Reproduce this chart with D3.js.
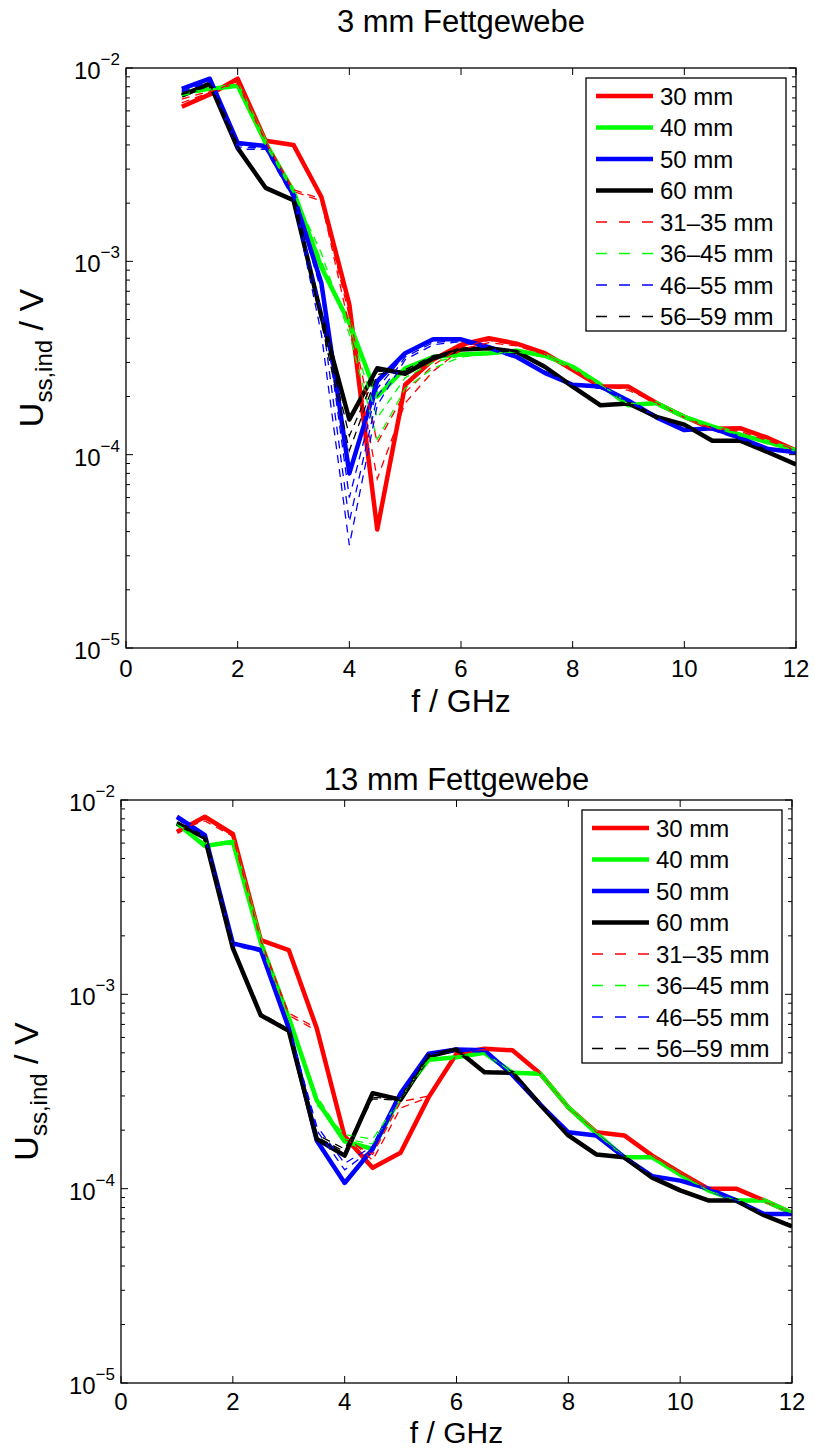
<!DOCTYPE html>
<html>
<head>
<meta charset="utf-8">
<script src="https://cdn.jsdelivr.net/npm/d3@7"></script>
<style>
  body { margin: 0; background: #fff; }
  svg text { font-family: 'Liberation Sans', Arial, Helvetica, sans-serif; fill: #000; }
</style>
</head>
<body>
<svg id="chart" width="815" height="1452"></svg>
<script>
// frequencies in GHz
const freqs = [1, 1.5, 2, 2.5, 3, 3.5, 4, 4.5, 5, 5.5, 6, 6.5, 7, 7.5, 8, 8.5, 9, 9.5, 10, 10.5, 11, 11.5, 12];
const xTicks = [0, 2, 4, 6, 8, 10, 12];
const yDecades = [-5, -4, -3, -2];
const legendLabels = ['30 mm', '40 mm', '50 mm', '60 mm', '31–35 mm', '36–45 mm', '46–55 mm', '56–59 mm'];
const titles = ['3 mm Fettgewebe', '13 mm Fettgewebe'];

// 3 mm fat - solid lines
const fat3_30 = [6.3e-3, 7.3e-3, 8.8e-3, 4.2e-3, 4.0e-3, 2.15e-3, 6.0e-4, 4.1e-5, 2.3e-4, 3.1e-4, 3.7e-4, 4.0e-4, 3.75e-4, 3.35e-4, 2.75e-4, 2.25e-4, 2.25e-4, 1.85e-4, 1.57e-4, 1.36e-4, 1.37e-4, 1.22e-4, 1.05e-4];
const fat3_40 = [7.5e-3, 7.8e-3, 8.1e-3, 4.1e-3, 2.3e-3, 9.3e-4, 4.8e-4, 2.0e-4, 2.8e-4, 3.2e-4, 3.3e-4, 3.35e-4, 3.45e-4, 3.25e-4, 2.85e-4, 2.3e-4, 1.8e-4, 1.85e-4, 1.57e-4, 1.4e-4, 1.27e-4, 1.16e-4, 1.05e-4];
const fat3_50 = [7.8e-3, 8.8e-3, 4.1e-3, 3.95e-3, 2.2e-3, 7.7e-4, 8.0e-5, 2.4e-4, 3.35e-4, 3.95e-4, 3.95e-4, 3.6e-4, 3.2e-4, 2.65e-4, 2.3e-4, 2.25e-4, 1.9e-4, 1.56e-4, 1.34e-4, 1.37e-4, 1.22e-4, 1.07e-4, 1.03e-4];
const fat3_60 = [7.2e-3, 8.3e-3, 3.85e-3, 2.4e-3, 2.07e-3, 5.2e-4, 1.52e-4, 2.8e-4, 2.62e-4, 3.15e-4, 3.5e-4, 3.55e-4, 3.4e-4, 2.85e-4, 2.25e-4, 1.8e-4, 1.84e-4, 1.57e-4, 1.43e-4, 1.18e-4, 1.18e-4, 1.03e-4, 8.9e-5];
// 3 mm fat - intermediate distances (dashed)
const fat3_31_35 = [
  [6.6e-3, 7.5e-3, 8.5e-3, 4.2e-3, 2.35e-3, 2.1e-3, 5.2e-4, 1.15e-4, 2.1e-4, 2.9e-4, 3.6e-4, 3.9e-4, 3.7e-4, 3.3e-4, 2.75e-4, 2.25e-4, 2.2e-4, 1.85e-4, 1.56e-4, 1.36e-4, 1.35e-4, 1.2e-4, 1.05e-4],
  [6.9e-3, 7.6e-3, 8.3e-3, 4.15e-3, 2.3e-3, 2.05e-3, 4.6e-4, 7.5e-5, 1.85e-4, 2.7e-4, 3.5e-4, 3.8e-4, 3.65e-4, 3.3e-4, 2.8e-4, 2.3e-4, 2.15e-4, 1.85e-4, 1.56e-4, 1.37e-4, 1.32e-4, 1.18e-4, 1.05e-4]
];
const fat3_36_45 = [
  [7.4e-3, 7.8e-3, 8.0e-3, 4.1e-3, 2.3e-3, 1.0e-3, 4.6e-4, 1.55e-4, 2.5e-4, 3.0e-4, 3.25e-4, 3.35e-4, 3.4e-4, 3.25e-4, 2.85e-4, 2.3e-4, 1.82e-4, 1.84e-4, 1.56e-4, 1.4e-4, 1.26e-4, 1.15e-4, 1.05e-4],
  [7.2e-3, 7.7e-3, 7.9e-3, 4.0e-3, 2.25e-3, 1.1e-3, 4.2e-4, 1.2e-4, 2.2e-4, 2.8e-4, 3.2e-4, 3.3e-4, 3.4e-4, 3.2e-4, 2.8e-4, 2.3e-4, 1.85e-4, 1.8e-4, 1.55e-4, 1.4e-4, 1.25e-4, 1.15e-4, 1.04e-4]
];
const fat3_46_55 = [
  [7.7e-3, 8.7e-3, 4.0e-3, 3.9e-3, 2.2e-3, 7.0e-4, 6.0e-5, 2.2e-4, 3.3e-4, 3.9e-4, 3.9e-4, 3.6e-4, 3.2e-4, 2.7e-4, 2.3e-4, 2.25e-4, 1.9e-4, 1.57e-4, 1.35e-4, 1.36e-4, 1.22e-4, 1.07e-4, 1.03e-4],
  [7.6e-3, 8.6e-3, 3.9e-3, 3.85e-3, 2.15e-3, 5.5e-4, 4.5e-5, 2.0e-4, 3.2e-4, 3.8e-4, 3.9e-4, 3.55e-4, 3.2e-4, 2.7e-4, 2.3e-4, 2.2e-4, 1.9e-4, 1.57e-4, 1.35e-4, 1.35e-4, 1.21e-4, 1.07e-4, 1.02e-4],
  [7.5e-3, 8.5e-3, 3.8e-3, 3.8e-3, 2.1e-3, 4.2e-4, 3.4e-5, 1.8e-4, 3.1e-4, 3.7e-4, 3.85e-4, 3.5e-4, 3.15e-4, 2.65e-4, 2.3e-4, 2.2e-4, 1.88e-4, 1.55e-4, 1.34e-4, 1.34e-4, 1.2e-4, 1.06e-4, 1.02e-4]
];
const fat3_56_59 = [
  [7.3e-3, 8.3e-3, 3.9e-3, 2.4e-3, 2.1e-3, 5.0e-4, 1.25e-4, 2.7e-4, 2.7e-4, 3.2e-4, 3.5e-4, 3.55e-4, 3.4e-4, 2.85e-4, 2.25e-4, 1.82e-4, 1.83e-4, 1.56e-4, 1.42e-4, 1.19e-4, 1.18e-4, 1.03e-4, 9.0e-5],
  [7.4e-3, 8.3e-3, 3.95e-3, 2.4e-3, 2.1e-3, 4.8e-4, 1.05e-4, 2.6e-4, 2.75e-4, 3.25e-4, 3.5e-4, 3.55e-4, 3.4e-4, 2.85e-4, 2.25e-4, 1.83e-4, 1.83e-4, 1.56e-4, 1.42e-4, 1.19e-4, 1.18e-4, 1.03e-4, 9.0e-5]
];

// 13 mm fat - solid lines
const fat13_30 = [6.85e-3, 8.2e-3, 6.7e-3, 1.9e-3, 1.69e-3, 6.7e-4, 1.85e-4, 1.28e-4, 1.53e-4, 2.95e-4, 4.95e-4, 5.25e-4, 5.15e-4, 3.9e-4, 2.62e-4, 1.95e-4, 1.88e-4, 1.48e-4, 1.21e-4, 1.0e-4, 1.0e-4, 8.7e-5, 7.5e-5];
const fat13_40 = [7.6e-3, 5.8e-3, 6.1e-3, 1.85e-3, 7.6e-4, 2.85e-4, 1.75e-4, 1.6e-4, 3.0e-4, 4.6e-4, 4.75e-4, 5.0e-4, 3.95e-4, 3.9e-4, 2.62e-4, 1.93e-4, 1.45e-4, 1.45e-4, 1.18e-4, 9.8e-5, 8.7e-5, 8.7e-5, 7.5e-5];
const fat13_50 = [8.2e-3, 6.6e-3, 1.83e-3, 1.69e-3, 6.7e-4, 1.77e-4, 1.07e-4, 1.6e-4, 3.1e-4, 4.95e-4, 5.2e-4, 5.15e-4, 3.85e-4, 2.7e-4, 1.95e-4, 1.88e-4, 1.45e-4, 1.16e-4, 1.1e-4, 1.0e-4, 8.7e-5, 7.4e-5, 7.4e-5];
const fat13_60 = [7.6e-3, 6.4e-3, 1.73e-3, 7.8e-4, 6.5e-4, 1.8e-4, 1.48e-4, 3.1e-4, 2.87e-4, 4.8e-4, 5.2e-4, 3.97e-4, 3.95e-4, 2.7e-4, 1.88e-4, 1.5e-4, 1.45e-4, 1.14e-4, 9.8e-5, 8.7e-5, 8.7e-5, 7.3e-5, 6.4e-5];
// 13 mm fat - intermediate distances (dashed)
const fat13_31_35 = [
  [6.9e-3, 8.0e-3, 6.6e-3, 1.9e-3, 8.0e-4, 6.7e-4, 1.9e-4, 1.4e-4, 2.6e-4, 2.95e-4, 4.9e-4, 5.2e-4, 5.1e-4, 3.9e-4, 2.62e-4, 1.95e-4, 1.88e-4, 1.48e-4, 1.2e-4, 1.0e-4, 1.0e-4, 8.7e-5, 7.5e-5],
  [7.0e-3, 7.8e-3, 6.5e-3, 1.88e-3, 7.8e-4, 6.5e-4, 1.8e-4, 1.5e-4, 2.8e-4, 3.0e-4, 4.9e-4, 5.2e-4, 5.1e-4, 3.9e-4, 2.6e-4, 1.95e-4, 1.86e-4, 1.47e-4, 1.2e-4, 1.0e-4, 9.8e-5, 8.6e-5, 7.5e-5]
];
const fat13_36_45 = [
  [7.6e-3, 5.9e-3, 6.0e-3, 1.85e-3, 7.6e-4, 3.0e-4, 1.8e-4, 1.7e-4, 2.9e-4, 4.6e-4, 4.8e-4, 5.0e-4, 3.95e-4, 3.9e-4, 2.62e-4, 1.93e-4, 1.45e-4, 1.45e-4, 1.18e-4, 9.8e-5, 8.7e-5, 8.7e-5, 7.5e-5],
  [7.5e-3, 6.0e-3, 5.9e-3, 1.8e-3, 7.5e-4, 2.7e-4, 1.9e-4, 1.8e-4, 2.9e-4, 4.7e-4, 4.8e-4, 5.0e-4, 3.9e-4, 3.85e-4, 2.6e-4, 1.92e-4, 1.46e-4, 1.44e-4, 1.17e-4, 9.8e-5, 8.7e-5, 8.6e-5, 7.5e-5]
];
const fat13_46_55 = [
  [8.1e-3, 6.5e-3, 1.8e-3, 1.68e-3, 6.8e-4, 2.0e-4, 1.25e-4, 1.6e-4, 3.0e-4, 4.9e-4, 5.1e-4, 5.1e-4, 3.8e-4, 2.75e-4, 1.95e-4, 1.88e-4, 1.45e-4, 1.17e-4, 1.1e-4, 1.0e-4, 8.7e-5, 7.5e-5, 7.4e-5],
  [8.0e-3, 6.4e-3, 1.78e-3, 1.66e-3, 6.8e-4, 2.1e-4, 1.35e-4, 1.65e-4, 3.0e-4, 4.9e-4, 5.1e-4, 5.05e-4, 3.8e-4, 2.75e-4, 1.95e-4, 1.87e-4, 1.45e-4, 1.17e-4, 1.1e-4, 1.0e-4, 8.6e-5, 7.5e-5, 7.4e-5]
];
const fat13_56_59 = [
  [7.6e-3, 6.4e-3, 1.75e-3, 7.9e-4, 6.5e-4, 1.85e-4, 1.55e-4, 2.9e-4, 2.85e-4, 4.8e-4, 5.2e-4, 4.0e-4, 3.95e-4, 2.7e-4, 1.88e-4, 1.5e-4, 1.45e-4, 1.14e-4, 9.8e-5, 8.7e-5, 8.7e-5, 7.3e-5, 6.5e-5],
  [7.7e-3, 6.3e-3, 1.76e-3, 8.0e-4, 6.6e-4, 1.9e-4, 1.6e-4, 2.95e-4, 2.9e-4, 4.8e-4, 5.15e-4, 4.05e-4, 3.95e-4, 2.72e-4, 1.9e-4, 1.52e-4, 1.45e-4, 1.15e-4, 9.9e-5, 8.8e-5, 8.6e-5, 7.3e-5, 6.5e-5]
];

const colors = ['#ff0000', '#00ff00', '#0000ff', '#000000'];

const panels = [
  { title: titles[0], left: 126, right: 796, top: 68, bottom: 648, titleY: 32, ylabX: 43,
    tickDy: 29, xlabDy: 64, xlabSize: 32,
    solid: [fat3_30, fat3_40, fat3_50, fat3_60],
    dashed: [fat3_31_35, fat3_36_45, fat3_46_55, fat3_56_59] },
  { title: titles[1], left: 121, right: 792, top: 800, bottom: 1383, titleY: 790, ylabX: 38,
    tickDy: 27, xlabDy: 60, xlabSize: 30,
    solid: [fat13_30, fat13_40, fat13_50, fat13_60],
    dashed: [fat13_31_35, fat13_36_45, fat13_46_55, fat13_56_59] }
];

const svg = d3.select('#chart');

function drawPanel(p, idx) {
  const x = d3.scaleLinear().domain([0, 12]).range([p.left, p.right]);
  const y = d3.scaleLog().domain([1e-5, 1e-2]).range([p.bottom, p.top]);
  const g = svg.append('g');

  g.append('clipPath').attr('id', 'clip' + idx)
    .append('rect')
    .attr('x', p.left).attr('y', p.top)
    .attr('width', p.right - p.left).attr('height', p.bottom - p.top);

  const line = d3.line()
    .x((d, i) => x(freqs[i]))
    .y(d => y(d));

  const plot = g.append('g').attr('clip-path', `url(#clip${idx})`);

  // thick lines first, then the thin dashed ones
  p.solid.forEach((s, i) => {
    plot.append('path')
      .attr('d', line(s))
      .attr('fill', 'none')
      .attr('stroke', colors[i])
      .attr('stroke-width', 4.5)
      .attr('stroke-linejoin', 'round');
  });
  p.dashed.forEach((group, i) => {
    group.forEach(s => {
      plot.append('path')
        .attr('d', line(s))
        .attr('fill', 'none')
        .attr('stroke', colors[i])
        .attr('stroke-width', 1.3)
        .attr('stroke-dasharray', '8,6');
    });
  });

  // box
  g.append('rect')
    .attr('x', p.left).attr('y', p.top)
    .attr('width', p.right - p.left).attr('height', p.bottom - p.top)
    .attr('fill', 'none').attr('stroke', '#000').attr('stroke-width', 1.3);

  // x ticks (inside, bottom and top)
  const tl = 7;
  xTicks.forEach(t => {
    g.append('line').attr('x1', x(t)).attr('x2', x(t)).attr('y1', p.bottom).attr('y2', p.bottom - tl)
      .attr('stroke', '#000');
    g.append('line').attr('x1', x(t)).attr('x2', x(t)).attr('y1', p.top).attr('y2', p.top + tl)
      .attr('stroke', '#000');
    g.append('text')
      .attr('x', x(t)).attr('y', p.bottom + p.tickDy)
      .attr('text-anchor', 'middle')
      .attr('font-size', 24)
      .text(t);
  });

  // y ticks: decades + minor
  yDecades.forEach(e => {
    const v = Math.pow(10, e);
    [p.left, p.right].forEach((xx, k) => {
      const dir = k === 0 ? 1 : -1;
      g.append('line').attr('x1', xx).attr('x2', xx + dir * tl).attr('y1', y(v)).attr('y2', y(v))
        .attr('stroke', '#000');
      if (e < -2) {
        for (let m = 2; m <= 9; m++) {
          const yy = y(m * v);
          g.append('line').attr('x1', xx).attr('x2', xx + dir * 4).attr('y1', yy).attr('y2', yy)
            .attr('stroke', '#000');
        }
      }
    });
    const lab = g.append('text')
      .attr('x', p.left - 6).attr('y', y(v) + 11)
      .attr('text-anchor', 'end')
      .attr('font-size', 24);
    lab.append('tspan').text('10');
    lab.append('tspan').attr('dy', -14).attr('font-size', 17).text('−' + (-e));
  });

  // title
  g.append('text')
    .attr('x', (p.left + p.right) / 2).attr('y', p.titleY)
    .attr('text-anchor', 'middle')
    .attr('font-size', 31)
    .text(p.title);

  // x label
  g.append('text')
    .attr('x', (p.left + p.right) / 2).attr('y', p.bottom + p.xlabDy)
    .attr('text-anchor', 'middle')
    .attr('font-size', p.xlabSize)
    .text('f / GHz');

  // y label
  const yl = g.append('text')
    .attr('transform', `translate(${p.ylabX},${(p.top + p.bottom) / 2}) rotate(-90)`)
    .attr('text-anchor', 'middle')
    .attr('font-size', 34);
  yl.append('tspan').text('U');
  yl.append('tspan').attr('dy', 9).attr('font-size', 24).text('ss,ind');
  yl.append('tspan').attr('dy', -9).text(' / V');

  // legend
  const lw = 200, lh = 253;
  const lx = p.right - 10 - lw, ly = p.top + 10;
  const leg = g.append('g');
  leg.append('rect')
    .attr('x', lx).attr('y', ly).attr('width', lw).attr('height', lh)
    .attr('fill', '#fff').attr('stroke', '#000').attr('stroke-width', 1.3);
  legendLabels.forEach((name, i) => {
    const cy = ly + 18 + i * 31.5;
    const ci = i % 4;
    const isDashed = i >= 4;
    leg.append('line')
      .attr('x1', lx + 10).attr('x2', lx + 67)
      .attr('y1', cy).attr('y2', cy)
      .attr('stroke', colors[ci])
      .attr('stroke-width', isDashed ? 1.5 : 4.5)
      .attr('stroke-dasharray', isDashed ? '11,12' : null);
    leg.append('text')
      .attr('x', lx + 74).attr('y', cy + 8.5)
      .attr('font-size', 24)
      .text(name);
  });
}

panels.forEach(drawPanel);
</script>
</body>
</html>
